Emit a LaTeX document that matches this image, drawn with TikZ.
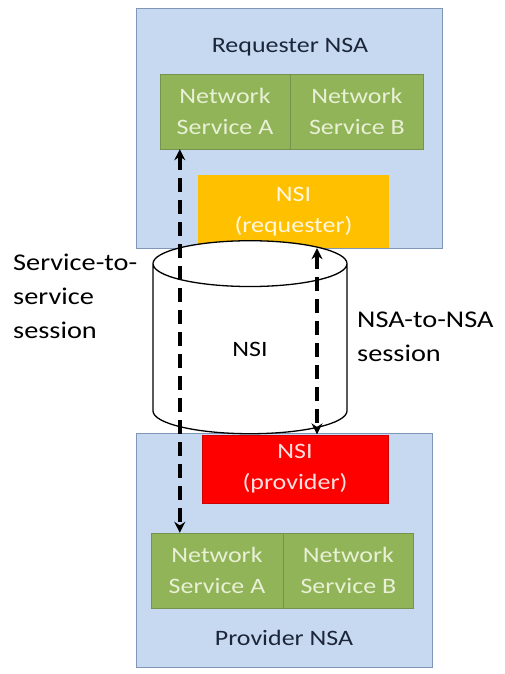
\documentclass[tikz,border=0pt]{standalone}
\usepackage{fontspec}
\setmainfont{Carlito}[FakeStretch=1.18]
\usetikzlibrary{positioning,shapes.geometric,arrows.meta}
\definecolor{nsablue}{RGB}{198,217,241}
\definecolor{nsaedge}{RGB}{128,150,182}
\definecolor{svcgreen}{RGB}{146,180,88}
\definecolor{svcedge}{RGB}{118,146,76}
\definecolor{svctext}{RGB}{232,240,214}
\definecolor{nsiorange}{RGB}{255,192,0}
\definecolor{nsired}{RGB}{255,0,0}
\definecolor{titletext}{RGB}{28,38,56}
\tikzset{
  nsabox/.style={draw=nsaedge,fill=nsablue,line width=0.8pt,inner sep=0pt},
  svcbox/.style={draw=svcedge,fill=svcgreen,text=svctext,inner sep=0pt,align=center,
    minimum height=75pt,font=\fontsize{22}{31}\selectfont},
  nsibox/.style={inner sep=0pt,align=center,font=\fontsize{22}{31}\selectfont},
  boxtitle/.style={text=titletext,font=\fontsize{22}{26}\selectfont},
  sidelabel/.style={align=left,inner sep=0pt,font=\fontsize{24}{34}\selectfont},
  session/.style={line width=3.4pt,dash pattern=on 14pt off 8pt,
    {Stealth[length=11pt,width=11pt]}-{Stealth[length=11pt,width=11pt]}}
}
\begin{document}
\begin{tikzpicture}[x=1pt,y=-1pt]
	\useasboundingbox (0,0) rectangle (504,674);
	\node[nsabox,minimum width=306pt,minimum height=240pt] (reqnsa) at (289,128) {};
	\node[boxtitle] (reqtitle) at (290,47) {Requester NSA};
	\node[svcbox,minimum width=130pt] (reqA) at (225,111.5) {Network\\Service A};
	\node[svcbox,minimum width=133pt,right=0pt of reqA] (reqB) {Network\\Service B};
	\node[nsibox,fill=nsiorange,text=white!88!nsiorange,minimum width=191pt,minimum height=73pt] (reqnsi) at (293.5,211.5) {NSI\\(requester)};
	\node[nsabox,minimum width=296pt,minimum height=234pt] (provnsa) at (284,550) {};
	\node[boxtitle] (provtitle) at (284,638) {Provider NSA};
	\node[nsibox,fill=nsired,draw=red!80!black,text=white!88!nsired,minimum width=186pt,minimum height=68pt] (provnsi) at (295,469) {NSI\\(provider)};
	\node[svcbox,minimum width=132pt] (provA) at (217,570.5) {Network\\Service A};
	\node[svcbox,minimum width=130pt,right=0pt of provA] (provB) {Network\\Service B};
	\node[cylinder,shape border rotate=90,draw,line width=1.3pt,fill=white,aspect=1.3,inner sep=0pt,
		minimum width=194pt,minimum height=193pt,font=\fontsize{22}{26}\selectfont] (nsi) at (250,349) {NSI};
	\draw[session] ([xshift=20pt]reqA.south west) -- ([xshift=20pt]reqA.south west |- provA.north);
	\draw[session] ([xshift=23.5pt]reqnsi.south) -- ([xshift=23.5pt]reqnsi.south |- nsi.south);
	\node[sidelabel,anchor=north west] (s2s) at (13,254) {Service-to-\\service\\session};
	\node[sidelabel,anchor=north west] (n2n) at (357,312) {NSA-to-NSA\\session};
\end{tikzpicture}
\end{document}
